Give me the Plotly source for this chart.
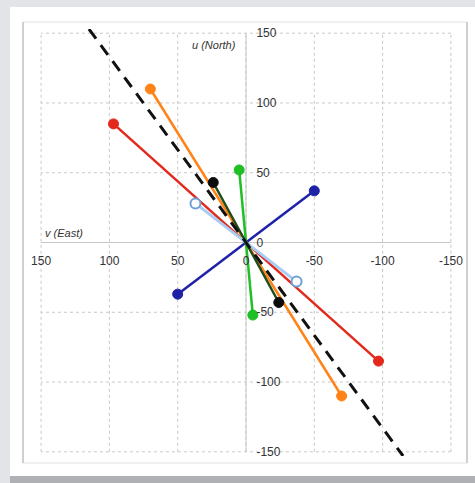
import plotly.graph_objects as go

# Current ellipse axes: each segment runs from (v, u) through the origin to (-v, -u)
series_names = ["red", "orange", "blue", "green", "dark", "light"]
v_east = [97, 70, -50, 5, 24, 37]
u_north = [85, 110, 37, 52, 43, 28]
line_colors = ["#e3281c", "#ff8317", "#1f22a8", "#1fbf25", "#1d4d1a", "#a9cdf2"]
marker_colors = ["#e3281c", "#ff8317", "#1f22a8", "#1fbf25", "#0b0b0b", "#ffffff"]
marker_edges = ["#e3281c", "#ff8317", "#1f22a8", "#1fbf25", "#0b0b0b", "#6f9fd6"]

# Principal direction guide line
guide_v = [115, -115]
guide_u = [153, -153]

tick_vals = [-150, -100, -50, 0, 50, 100, 150]
tick_text = [str(t) for t in tick_vals]

W, H = 475, 483
L, R, T, B = 37, 20, 29, 27
PW, PH = W - L - R, H - T - B


def px_x(p):
    return (p - L) / PW


def px_y(p):
    return (H - B - p) / PH


fig = go.Figure()

for i, name in enumerate(series_names):
    fig.add_trace(go.Scatter(
        x=[v_east[i], 0, -v_east[i]],
        y=[u_north[i], 0, -u_north[i]],
        mode="lines",
        name=name,
        line=dict(color=line_colors[i], width=3 if i == 5 else 2.5),
        hoverinfo="skip",
    ))
    fig.add_trace(go.Scatter(
        x=[v_east[i], -v_east[i]],
        y=[u_north[i], -u_north[i]],
        mode="markers",
        name=name,
        opacity=1,
        marker=dict(size=10, opacity=1, color=marker_colors[i],
                    line=dict(color=marker_edges[i], width=2 if i == 5 else 1)),
        hoverinfo="skip",
    ))

fig.add_trace(go.Scatter(
    x=guide_v, y=guide_u, mode="lines",
    line=dict(color="#111111", width=3, dash="12px,8px"),
    hoverinfo="skip",
))

shapes = [
    # card
    dict(type="rect", xref="paper", yref="paper", layer="below",
         x0=px_x(10), x1=px_x(476), y0=px_y(476), y1=px_y(7),
         fillcolor="#ffffff", line=dict(width=0)),
    # bottom shadow band
    dict(type="rect", xref="paper", yref="paper", layer="below",
         x0=px_x(10), x1=px_x(476), y0=px_y(483), y1=px_y(476),
         fillcolor="#aeb0b3", line=dict(width=0)),
    # inner frame
    dict(type="rect", xref="paper", yref="paper", layer="below",
         x0=px_x(23), x1=px_x(467), y0=px_y(463), y1=px_y(22),
         fillcolor="#ffffff", line=dict(color="#e2e2e2", width=1)),
    dict(type="line", xref="paper", yref="paper", layer="below",
         x0=px_x(23), x1=px_x(23), y0=px_y(463), y1=px_y(22),
         line=dict(color="#c4c4c4", width=1.5)),
    dict(type="line", xref="paper", yref="paper", layer="below",
         x0=px_x(467), x1=px_x(467), y0=px_y(463), y1=px_y(22),
         line=dict(color="#c4c4c4", width=1.5)),
]

for t in tick_vals:
    shapes.append(dict(type="line", xref="x", yref="y", layer="below",
                       x0=t, x1=t, y0=-150, y1=150,
                       line=dict(color="#c8c8c8", width=1, dash="dot")))
    shapes.append(dict(type="line", xref="x", yref="y", layer="below",
                       x0=-150, x1=150, y0=t, y1=t,
                       line=dict(color="#c8c8c8", width=1, dash="dot")))

# axis lines through the origin
shapes.append(dict(type="line", xref="x", yref="y", layer="below",
                   x0=-150, x1=150, y0=0, y1=0,
                   line=dict(color="#c6c6c6", width=1)))
shapes.append(dict(type="line", xref="x", yref="y", layer="below",
                   x0=0, x1=0, y0=-150, y1=150,
                   line=dict(color="#c6c6c6", width=1)))

tick_font = dict(family="Liberation Sans, Arial, sans-serif", size=12, color="#333333")

fig.update_layout(
    width=W, height=H,
    margin=dict(l=L, r=R, t=T, b=B),
    paper_bgcolor="#e2e4e7",
    plot_bgcolor="rgba(0,0,0,0)",
    showlegend=False,
    shapes=shapes,
    xaxis=dict(range=[153, -153], anchor="free", position=0.5, side="bottom",
               tickvals=tick_vals, ticktext=tick_text, showgrid=False,
               zeroline=False, showline=False, ticks="outside", ticklen=7,
               tickcolor="rgba(0,0,0,0)", tickfont=tick_font),
    yaxis=dict(range=[-153, 153], anchor="free", position=0.5, side="right",
               tickvals=tick_vals, ticktext=tick_text, showgrid=False,
               zeroline=False, showline=False, ticks="outside", ticklen=7,
               tickcolor="rgba(0,0,0,0)", tickfont=tick_font),
    annotations=[
        dict(text="<i>u (North)</i>", xref="paper", yref="paper",
             x=px_x(238), y=px_y(45), xanchor="right", yanchor="middle",
             showarrow=False, font=dict(family="Liberation Sans, Arial, sans-serif",
                                        size=11, color="#333333")),
        dict(text="<i>v (East)</i>", xref="paper", yref="paper",
             x=px_x(43), y=px_y(233), xanchor="left", yanchor="middle",
             showarrow=False, font=dict(family="Liberation Sans, Arial, sans-serif",
                                        size=11, color="#333333")),
    ],
)

fig.write_html("out.html")
